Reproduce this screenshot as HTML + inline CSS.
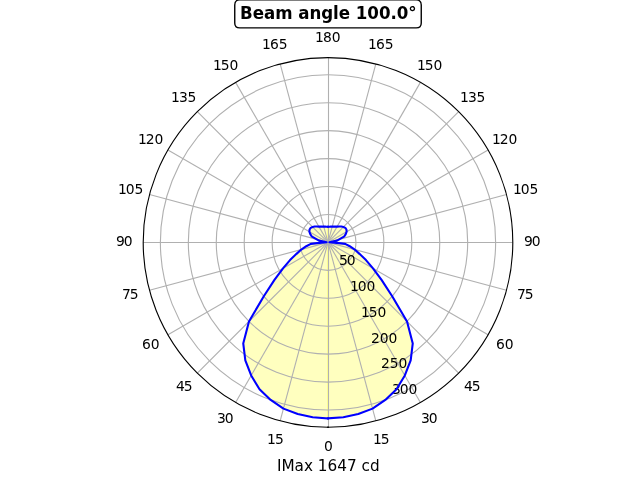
<!DOCTYPE html>
<html lang="en"><head><meta charset="utf-8"><title>Beam angle 100.0°</title>
<style>html,body{margin:0;padding:0;background:#fff;overflow:hidden}svg{display:block}text{font-family:"DejaVu Sans","Liberation Sans",sans-serif;fill:#000}.t{font-size:13.889px;text-anchor:middle}.r{font-size:13.889px;text-anchor:start}.xl{font-size:15.278px;text-anchor:middle}.ti{font-size:16.667px;font-weight:700;text-anchor:middle}.g{stroke:#b0b0b0;stroke-width:1.111;fill:none}</style></head><body>
<svg width="640" height="480" viewBox="0 0 640 480">
<rect width="640" height="480" fill="#fff"/>
<g fill="#ffff00" fill-opacity="0.25" stroke="none">
<polygon points="328,418.4 312.71,417.17 297.73,414.08 283.46,408.63 270.67,399.91 259.52,389.25 251.17,375.47 245.32,360.48 243.24,343.41 248.98,321.42 263.8,296.27 274.45,279.9 283,268.38 290.02,260.11 296.5,253.87 301.29,249.56 306.27,246.23 310.86,243.9 319.4,242.9 326.6,242.3 319,240.6 311.6,236.3 310.28,234.14 309.37,231.64 309.56,229.48 310.67,227.85 312.59,226.99 314.64,226.48 316.88,226.52 318.89,226.63 320.66,226.65 322.27,226.65 323.76,226.59 325.23,226.66 326.63,226.7 328,226.76"/>
<polygon points="328,418.4 343.29,417.17 358.27,414.08 372.54,408.63 385.33,399.91 396.48,389.25 404.83,375.47 410.68,360.48 412.76,343.41 407.02,321.42 392.2,296.27 381.55,279.9 373,268.38 365.98,260.11 359.5,253.87 354.71,249.56 349.73,246.23 345.14,243.9 336.6,242.9 329.4,242.3 337,240.6 344.4,236.3 345.72,234.14 346.63,231.64 346.44,229.48 345.33,227.85 343.41,226.99 341.36,226.48 339.12,226.52 337.11,226.63 335.34,226.65 333.73,226.65 332.24,226.59 330.77,226.66 329.37,226.7 328,226.76 327,226.76 327,418.4"/>
</g>
<g class="g">
<line x1="328.5" y1="242.4" x2="328.5" y2="427.2"/>
<line x1="328" y1="242.4" x2="375.83" y2="420.9"/>
<line x1="328" y1="242.4" x2="420.4" y2="402.44"/>
<line x1="328" y1="242.4" x2="458.67" y2="373.07"/>
<line x1="328" y1="242.4" x2="488.04" y2="334.8"/>
<line x1="328" y1="242.4" x2="506.5" y2="290.23"/>
<line x1="328" y1="242.5" x2="512.8" y2="242.5"/>
<line x1="328" y1="242.4" x2="506.5" y2="194.57"/>
<line x1="328" y1="242.4" x2="488.04" y2="150"/>
<line x1="328" y1="242.4" x2="458.67" y2="111.73"/>
<line x1="328" y1="242.4" x2="420.4" y2="82.36"/>
<line x1="328" y1="242.4" x2="375.83" y2="63.9"/>
<line x1="328.5" y1="242.4" x2="328.5" y2="57.6"/>
<line x1="328" y1="242.4" x2="280.17" y2="63.9"/>
<line x1="328" y1="242.4" x2="235.6" y2="82.36"/>
<line x1="328" y1="242.4" x2="197.33" y2="111.73"/>
<line x1="328" y1="242.4" x2="167.96" y2="150"/>
<line x1="328" y1="242.4" x2="149.5" y2="194.57"/>
<line x1="328" y1="242.5" x2="143.2" y2="242.5"/>
<line x1="328" y1="242.4" x2="149.5" y2="290.23"/>
<line x1="328" y1="242.4" x2="167.96" y2="334.8"/>
<line x1="328" y1="242.4" x2="197.33" y2="373.07"/>
<line x1="328" y1="242.4" x2="235.6" y2="402.44"/>
<line x1="328" y1="242.4" x2="280.17" y2="420.9"/>
</g>
<text class="r" x="323.96" y="451">0</text>
<text class="r" x="372.9 380.86" y="444">15</text>
<text class="r" x="421.04 428.87" y="423">30</text>
<text class="r" x="463.96 471.8" y="391">45</text>
<text class="r" x="495.92 504.76" y="349">60</text>
<text class="r" x="516.95 524.78" y="299">75</text>
<text class="r" x="523.91 531.87" y="246">90</text>
<text class="r" x="512.91 520.87 529.58" y="194">105</text>
<text class="r" x="491.88 499.71 508.55" y="144">120</text>
<text class="r" x="459.92 468 476.59" y="102">135</text>
<text class="r" x="416.99 424.7 433.54" y="70">150</text>
<text class="r" x="367.98 376.07 384.78" y="49">165</text>
<text class="r" x="315 322.96 331.79" y="42">180</text>
<text class="r" x="261.88 269.97 278.81" y="49">165</text>
<text class="r" x="213 220.71 229.55" y="70">150</text>
<text class="r" x="170.95 179.03 187.62" y="102">135</text>
<text class="r" x="137.99 145.7 154.54" y="144">120</text>
<text class="r" x="117.96 125.8 134.51" y="194">105</text>
<text class="r" x="115.92 123.76" y="246">90</text>
<text class="r" x="121.88 129.84" y="299">75</text>
<text class="r" x="142.03 150.87" y="349">60</text>
<text class="r" x="175.99 183.7" y="391">45</text>
<text class="r" x="216.92 224.75" y="423">30</text>
<text class="r" x="266.93 275.01" y="444">15</text>
<text class="xl" x="328.25" y="471">IMax 1647 cd</text>
<g class="g">
<circle cx="328" cy="242.4" r="27.94"/>
<circle cx="328" cy="242.4" r="55.87"/>
<circle cx="328" cy="242.4" r="83.81"/>
<circle cx="328" cy="242.4" r="111.75"/>
<circle cx="328" cy="242.4" r="139.68"/>
<circle cx="328" cy="242.4" r="167.62"/>
</g>
<text class="r" x="338.94 346.78" y="265">50</text>
<text class="r" x="349.88 357.72 366.55" y="291">100</text>
<text class="r" x="360.95 368.78 377.62" y="317">150</text>
<text class="r" x="370.89 379.72 388.56" y="343">200</text>
<text class="r" x="380.95 389.67 398.5" y="368">250</text>
<text class="r" x="392.02 399.73 408.57" y="394">300</text>
<g fill="none" stroke="#0000ff" stroke-width="2.083" stroke-linejoin="round" stroke-linecap="square">
<polyline points="328,418.4 343.29,417.17 358.27,414.08 372.54,408.63 385.33,399.91 396.48,389.25 404.83,375.47 410.68,360.48 412.76,343.41 407.02,321.42 392.2,296.27 381.55,279.9 373,268.38 365.98,260.11 359.5,253.87 354.71,249.56 349.73,246.23 345.14,243.9 336.6,242.9 329.4,242.3 337,240.6 344.4,236.3 345.72,234.14 346.63,231.64 346.44,229.48 345.33,227.85 343.41,226.99 341.36,226.48 339.12,226.52 337.11,226.63 335.34,226.65 333.73,226.65 332.24,226.59 330.77,226.66 329.37,226.7 328,226.76"/>
<polyline points="328,418.4 312.71,417.17 297.73,414.08 283.46,408.63 270.67,399.91 259.52,389.25 251.17,375.47 245.32,360.48 243.24,343.41 248.98,321.42 263.8,296.27 274.45,279.9 283,268.38 290.02,260.11 296.5,253.87 301.29,249.56 306.27,246.23 310.86,243.9 319.4,242.9 326.6,242.3 319,240.6 311.6,236.3 310.28,234.14 309.37,231.64 309.56,229.48 310.67,227.85 312.59,226.99 314.64,226.48 316.88,226.52 318.89,226.63 320.66,226.65 322.27,226.65 323.76,226.59 325.23,226.66 326.63,226.7 328,226.76"/>
</g>
<circle cx="328" cy="242.4" r="184.8" fill="none" stroke="#000" stroke-width="1.111"/>
<rect x="327" y="426.6" width="2" height="1.2" fill="#000"/>
<path d="M 239.75 27.9 L 416.25 27.9 Q 421.25 27.9 421.25 22.9 L 421.25 4.9 Q 421.25 -0.1 416.25 -0.1 L 239.75 -0.1 Q 234.75 -0.1 234.75 4.9 L 234.75 22.9 Q 234.75 27.9 239.75 27.9 Z" fill="#fff" stroke="#000" stroke-width="1.389" stroke-linejoin="miter"/>
<text class="ti" transform="translate(328.3 19) scale(1 1.075)" style="letter-spacing:-0.045px">Beam angle 100.0°</text>
</svg></body></html>
